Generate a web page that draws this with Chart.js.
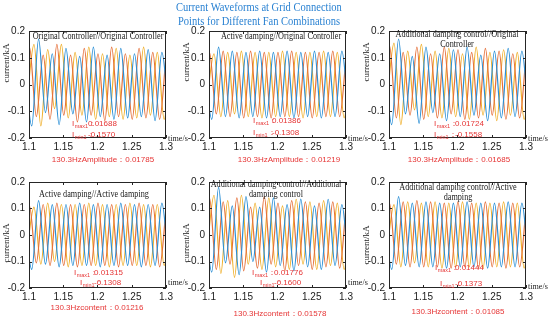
<!DOCTYPE html>
<html>
<head>
<meta charset="utf-8">
<script src="https://cdn.jsdelivr.net/npm/chart.js@4.4.0/dist/chart.umd.min.js"></script>
<style>
body { margin: 0; width: 550px; height: 320px; background: #fff; position: relative; overflow: hidden; }
canvas { position: absolute; }
#title { position: absolute; left: 0; top: 0; width: 518px; text-align: center; font: 12.5px "Liberation Serif", serif; color: #2a82d2; line-height: 14px; transform: scaleX(0.84); transform-origin: 259px 0; z-index: 5; }
</style>
</head>
<body>
<div id="title">Current Waveforms at Grid Connection<br>Points for Different Fan Combinations</div>
<canvas id="c0" width="190" height="169" style="left:0;top:0"></canvas>
<canvas id="c1" width="190" height="169" style="left:180px;top:0"></canvas>
<canvas id="c2" width="190" height="169" style="left:360px;top:0"></canvas>
<canvas id="c3" width="190" height="169" style="left:0;top:151px"></canvas>
<canvas id="c4" width="190" height="169" style="left:180px;top:151px"></canvas>
<canvas id="c5" width="190" height="169" style="left:360px;top:151px"></canvas>
<script>
// times of the peaks / troughs of each phase (50 Hz)
var tBlue = [1.094, 1.104, 1.114, 1.124, 1.134, 1.144, 1.154, 1.164, 1.174, 1.184, 1.194, 1.204, 1.214, 1.224, 1.234, 1.244, 1.254, 1.264, 1.274, 1.284, 1.294, 1.304];
var tOrange = [1.0907, 1.1007, 1.1107, 1.1207, 1.1307, 1.1407, 1.1507, 1.1607, 1.1707, 1.1807, 1.1907, 1.2007, 1.2107, 1.2207, 1.2307, 1.2407, 1.2507, 1.2607, 1.2707, 1.2807, 1.2907, 1.3007];
var tYellow = [1.0973, 1.1073, 1.1173, 1.1273, 1.1373, 1.1473, 1.1573, 1.1673, 1.1773, 1.1873, 1.1973, 1.2073, 1.2173, 1.2273, 1.2373, 1.2473, 1.2573, 1.2673, 1.2773, 1.2873, 1.2973, 1.3073];

// Original Controller//Original Controller
var blue1 = [0.06, -0.155, 0.170, -0.105, 0.115, -0.150, 0.135, -0.110, 0.105, -0.140, 0.140, -0.120, 0.110, -0.130, 0.135, -0.125, 0.115, -0.120, 0.130, -0.135, 0.120, -0.110];
var orange1 = [-0.05, 0.140, -0.120, 0.110, -0.130, 0.150, -0.115, 0.110, -0.140, 0.135, -0.115, 0.115, -0.135, 0.140, -0.120, 0.115, -0.130, 0.135, -0.125, 0.120, -0.130, 0.130];
var yellow1 = [-0.05, 0.150, -0.155, 0.130, -0.090, 0.150, -0.125, 0.120, -0.115, 0.140, -0.130, 0.115, -0.120, 0.135, -0.130, 0.110, -0.125, 0.140, -0.115, 0.120, -0.130, 0.120];
// Active damping//Original Controller
var blue2 = [0.05, -0.130, 0.140, -0.120, 0.125, -0.125, 0.120, -0.120, 0.125, -0.125, 0.120, -0.120, 0.125, -0.125, 0.120, -0.120, 0.125, -0.125, 0.120, -0.120, 0.125, -0.120];
var orange2 = [-0.05, 0.120, -0.110, 0.125, -0.120, 0.120, -0.125, 0.125, -0.120, 0.120, -0.125, 0.120, -0.120, 0.125, -0.120, 0.120, -0.125, 0.120, -0.120, 0.125, -0.120, 0.120];
var yellow2 = [-0.05, 0.115, -0.120, 0.120, -0.110, 0.125, -0.120, 0.120, -0.125, 0.120, -0.120, 0.125, -0.120, 0.120, -0.125, 0.120, -0.120, 0.125, -0.120, 0.120, -0.125, 0.120];
// Additional damping control//Original Controller
var blue3 = [0.06, -0.150, 0.170, -0.110, 0.105, -0.145, 0.140, -0.105, 0.115, -0.135, 0.130, -0.120, 0.140, -0.115, 0.110, -0.135, 0.125, -0.125, 0.135, -0.120, 0.125, -0.130];
var orange3 = [-0.05, 0.145, -0.125, 0.120, -0.115, 0.140, -0.130, 0.115, -0.125, 0.140, -0.110, 0.130, -0.130, 0.120, -0.125, 0.135, -0.115, 0.125, -0.130, 0.115, -0.125, 0.130];
var yellow3 = [-0.05, 0.155, -0.150, 0.125, -0.095, 0.150, -0.120, 0.125, -0.125, 0.135, -0.120, 0.115, -0.130, 0.140, -0.115, 0.120, -0.135, 0.130, -0.115, 0.120, -0.130, 0.120];
// Active damping//Active damping
var blue4 = [0.04, -0.130, 0.130, -0.110, 0.115, -0.120, 0.115, -0.115, 0.120, -0.115, 0.115, -0.120, 0.115, -0.115, 0.120, -0.115, 0.115, -0.120, 0.115, -0.115, 0.120, -0.115];
var orange4 = [-0.05, 0.110, -0.105, 0.115, -0.115, 0.120, -0.115, 0.115, -0.120, 0.115, -0.115, 0.120, -0.115, 0.115, -0.120, 0.115, -0.115, 0.120, -0.115, 0.115, -0.120, 0.115];
var yellow4 = [-0.05, 0.105, -0.110, 0.120, -0.100, 0.115, -0.120, 0.115, -0.115, 0.120, -0.115, 0.115, -0.120, 0.115, -0.115, 0.120, -0.115, 0.115, -0.120, 0.115, -0.115, 0.120];
// Additional damping control//Additional damping control
var blue5 = [0.06, -0.140, 0.180, -0.105, 0.110, -0.150, 0.145, -0.100, 0.105, -0.140, 0.140, -0.115, 0.115, -0.135, 0.135, -0.120, 0.110, -0.130, 0.135, -0.115, 0.115, -0.130];
var orange5 = [-0.05, 0.140, -0.130, 0.125, -0.110, 0.140, -0.135, 0.105, -0.125, 0.145, -0.110, 0.120, -0.135, 0.130, -0.115, 0.125, -0.130, 0.120, -0.120, 0.125, -0.125, 0.130];
var yellow5 = [-0.05, 0.150, -0.145, 0.130, -0.160, 0.150, -0.110, 0.120, -0.130, 0.140, -0.120, 0.110, -0.130, 0.135, -0.110, 0.125, -0.130, 0.130, -0.115, 0.120, -0.130, 0.120];
// Additional damping control//Active damping
var blue6 = [0.05, -0.130, 0.145, -0.115, 0.120, -0.120, 0.125, -0.120, 0.120, -0.125, 0.120, -0.120, 0.125, -0.120, 0.120, -0.125, 0.120, -0.120, 0.125, -0.120, 0.120, -0.120];
var orange6 = [-0.05, 0.120, -0.110, 0.125, -0.120, 0.130, -0.120, 0.125, -0.120, 0.120, -0.125, 0.125, -0.120, 0.120, -0.125, 0.125, -0.120, 0.120, -0.125, 0.120, -0.120, 0.120];
var yellow6 = [-0.05, 0.115, -0.120, 0.125, -0.105, 0.120, -0.120, 0.125, -0.125, 0.120, -0.120, 0.125, -0.120, 0.120, -0.125, 0.120, -0.120, 0.125, -0.120, 0.120, -0.125, 0.120];

var xTicks = [1.1, 1.15, 1.2, 1.25, 1.3];
var xTickLabels = ['1.1', '1.15', '1.2', '1.25', '1.3'];
var yTicks = [-0.2, -0.1, 0, 0.1, 0.2];
var yTickLabels = ['-0.2', '-0.1', '0', '0.1', '0.2'];

var panelTitles = [
	['Original Controller//Original Controller'],
	['Active damping//Original Controller'],
	['Additional damping control//Original', 'Controller'],
	['Active damping//Active damping'],
	['Additional damping control//Additional', 'damping control'],
	['Additional damping control//Active', 'damping']
];
var imaxText = ['0.01688', '0.01386', '0.01724', '0.01315', '0.01776', '0.01444'];
var iminText = ['-0.1570', '-0.1308', '-0.1558', '-0.1308', '-0.1600', '-0.1373'];
var harmLabels = ['130.3HzAmplitude：', '130.3HzAmplitude：', '130.3HzAmplitude：', '130.3Hzcontent：', '130.3Hzcontent：', '130.3Hzcontent：'];
var harmText = ['0.01785', '0.01219', '0.01685', '0.01216', '0.01578', '0.01085'];

// text placement, relative to each plot area
var panelLayout = [
	{ titleX: 69, titleY: [5], annX: 43, maxY: 93, minX: 43, minY: 104, valX: 59, harmX: 74, harmDY: 22, timeDY: 1, ylabY: 32 },
	{ titleX: 72, titleY: [5], annX: 44, maxY: 90, minX: 44, minY: 102, valX: 63, harmX: 80, harmDY: 22, timeDY: 1, ylabY: 31 },
	{ titleX: 68, titleY: [3, 13], annX: 45, maxY: 93, minX: 45, minY: 104, valX: 66, harmX: 70, harmDY: 22, timeDY: 1, ylabY: 31 },
	{ titleX: 65, titleY: [12], annX: 45, maxY: 91, minX: 51, minY: 101, valX: 65, harmX: 68, harmDY: 20, timeDY: -5, ylabY: 61 },
	{ titleX: 67, titleY: [2, 12], annX: 43, maxY: 91, minX: 51, minY: 101, valX: 65, harmX: 71, harmDY: 26, timeDY: -5, ylabY: 61 },
	{ titleX: 69, titleY: [5, 15], annX: 46, maxY: 86, minX: 51, minY: 102, valX: 66, harmX: 69, harmDY: 24, timeDY: -1, ylabY: 63 }
];

var blueColor = '#2a8fd6';
var orangeColor = '#e5703a';
var yellowColor = '#efb02e';
var redText = '#e63535';

function toPoints(times, values) {
	var res = [];
	for (var i = 0; i < values.length; ++i) {
		res.push({ x: times[i], y: values[i] });
	}
	return res;
}

function scaledText(ctx, text, x, y, sx) {
	ctx.save();
	ctx.translate(x, y);
	ctx.scale(sx, 1);
	ctx.fillText(text, 0, 0);
	ctx.restore();
}

function drawAnn(ctx, a, p, y, x, sub, val) {
	ctx.textAlign = 'left';
	ctx.font = '8px "Liberation Sans", sans-serif';
	ctx.fillText('I', a.left + x, a.top + y);
	var w = ctx.measureText('I').width;
	ctx.font = '5.5px "Liberation Sans", sans-serif';
	ctx.fillText(sub, a.left + x + w + 0.5, a.top + y + 2);
	var w2 = ctx.measureText(sub).width;
	ctx.font = '8px "Liberation Sans", sans-serif';
	ctx.fillText('：', a.left + x + w + w2 + 0.5, a.top + y);
	ctx.fillText(val, a.left + p.valX, a.top + y);
}

function panelPlugin(i) {
	return {
		id: 'panelText' + i,
		afterDatasetsDraw: function (chart) {
			var ctx = chart.ctx, a = chart.chartArea, p = panelLayout[i];
			var xs = chart.scales.x, ys = chart.scales.y;
			ctx.save();
			// box and inward ticks
			ctx.strokeStyle = '#262626';
			ctx.lineWidth = 1;
			ctx.strokeRect(a.left + 0.5, a.top + 0.5, a.right - a.left - 1, a.bottom - a.top - 1);
			ctx.beginPath();
			xTicks.forEach(function (v) {
				var px = Math.round(xs.getPixelForValue(v)) + 0.5;
				ctx.moveTo(px, a.bottom); ctx.lineTo(px, a.bottom - 3);
				ctx.moveTo(px, a.top); ctx.lineTo(px, a.top + 3);
			});
			yTicks.forEach(function (v) {
				var py = Math.round(ys.getPixelForValue(v)) + 0.5;
				ctx.moveTo(a.left, py); ctx.lineTo(a.left + 3, py);
				ctx.moveTo(a.right, py); ctx.lineTo(a.right - 3, py);
			});
			ctx.stroke();

			// panel title
			ctx.fillStyle = '#1a1a1a';
			ctx.textAlign = 'center';
			ctx.textBaseline = 'middle';
			ctx.font = '10px "Liberation Serif", serif';
			panelTitles[i].forEach(function (line, k) {
				scaledText(ctx, line, a.left + p.titleX, a.top + p.titleY[k], 0.82);
			});

			// axis titles
			ctx.font = '9px "Liberation Serif", serif';
			ctx.textAlign = 'left';
			scaledText(ctx, 'time/s', a.right + 2, a.bottom + p.timeDY, 0.9);
			ctx.save();
			ctx.translate(a.left - 22, a.top + p.ylabY);
			ctx.rotate(-Math.PI / 2);
			ctx.textAlign = 'center';
			ctx.fillText('current/kA', 0, 0);
			ctx.restore();

			// red annotations
			ctx.fillStyle = redText;
			drawAnn(ctx, a, p, p.maxY, p.annX, 'max1', imaxText[i]);
			drawAnn(ctx, a, p, p.minY, p.minX, 'min1', iminText[i]);
			ctx.textAlign = 'center';
			ctx.font = '8px "Liberation Sans", sans-serif';
			ctx.fillText(harmLabels[i] + harmText[i], a.left + p.harmX, a.bottom + p.harmDY);
			ctx.restore();
		}
	};
}

function makeChart(i, blue, orange, yellow) {
	var ctx = document.getElementById('c' + i).getContext('2d');
	var xh = i < 3 ? 31 : 32;
	var line = function (data, color) {
		return {
			data: data,
			borderColor: color,
			borderWidth: 1.2,
			pointRadius: 0,
			fill: false,
			cubicInterpolationMode: 'monotone'
		};
	};
	return new Chart(ctx, {
		type: 'line',
		data: {
			datasets: [
				line(toPoints(tBlue, blue), blueColor),
				line(toPoints(tOrange, orange), orangeColor),
				line(toPoints(tYellow, yellow), yellowColor)
			]
		},
		options: {
			responsive: false,
			animation: false,
			layout: { padding: { top: 31, right: 24, left: 0, bottom: 0 } },
			plugins: { legend: { display: false }, tooltip: { enabled: false } },
			scales: {
				x: {
					type: 'linear', min: 1.1, max: 1.3,
					grid: { display: false, drawTicks: false },
					border: { display: false },
					afterBuildTicks: function (scale) { scale.ticks = xTicks.map(function (v) { return { value: v }; }); },
					afterFit: function (scale) { scale.height = xh; },
					ticks: {
						padding: 3, color: '#1a1a1a', maxRotation: 0, autoSkip: false,
						font: { family: '"Liberation Sans", Arial, sans-serif', size: 10 },
						callback: function (value, index) { return xTickLabels[index]; }
					}
				},
				y: {
					type: 'linear', min: -0.2, max: 0.2,
					grid: { display: false, drawTicks: false },
					border: { display: false },
					afterBuildTicks: function (scale) { scale.ticks = yTicks.map(function (v) { return { value: v }; }); },
					afterFit: function (scale) { scale.width = 29; },
					ticks: {
						padding: 4, color: '#1a1a1a', autoSkip: false,
						font: { family: '"Liberation Sans", Arial, sans-serif', size: 10 },
						callback: function (value, index) { return yTickLabels[index]; }
					}
				}
			}
		},
		plugins: [panelPlugin(i)]
	});
}

makeChart(0, blue1, orange1, yellow1);
makeChart(1, blue2, orange2, yellow2);
makeChart(2, blue3, orange3, yellow3);
makeChart(3, blue4, orange4, yellow4);
makeChart(4, blue5, orange5, yellow5);
makeChart(5, blue6, orange6, yellow6);
</script>
</body>
</html>
